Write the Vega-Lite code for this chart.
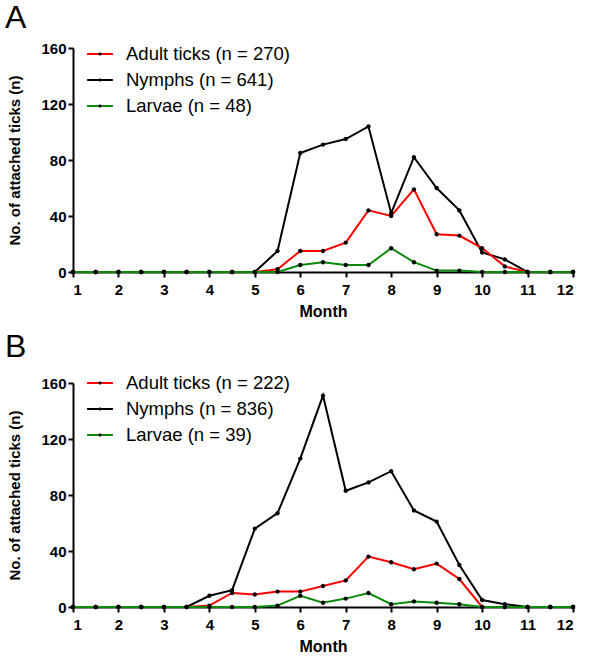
{
  "$schema": "https://vega.github.io/schema/vega-lite/v6.json",
  "padding": {"left": 4, "top": 2, "right": 5, "bottom": 2},
  "spacing": 12,
  "resolve": {"scale": {"color": "independent", "shape": "independent"}, "legend": {"color": "independent", "shape": "independent"}},
  "config": {
    "font": "Liberation Sans",
    "view": {"stroke": null},
    "axis": {"domainColor": "black", "domainWidth": 2, "tickColor": "black", "tickWidth": 2, "tickSize": 5, "labelFont": "Liberation Sans", "labelFontWeight": "bold", "labelFontSize": 15, "labelColor": "black", "titleFont": "Liberation Sans", "titleFontWeight": "bold", "titleFontSize": 15, "titleColor": "black", "grid": false},
    "legend": {"labelLimit": 400},
    "title": {"fontSize": 32, "fontWeight": "normal", "anchor": "start", "frame": "bounds", "color": "black", "font": "Liberation Sans", "offset": 6, "dx": -3}
  },
  "datasets": {
    "A": [
      {"m":1,"s":"Nymphs (n = 641)","n":0},{"m":1.5,"s":"Nymphs (n = 641)","n":0},{"m":2,"s":"Nymphs (n = 641)","n":0},{"m":2.5,"s":"Nymphs (n = 641)","n":0},{"m":3,"s":"Nymphs (n = 641)","n":0},{"m":3.5,"s":"Nymphs (n = 641)","n":0},{"m":4,"s":"Nymphs (n = 641)","n":0},{"m":4.5,"s":"Nymphs (n = 641)","n":0},{"m":5,"s":"Nymphs (n = 641)","n":0},{"m":5.5,"s":"Nymphs (n = 641)","n":15},{"m":6,"s":"Nymphs (n = 641)","n":85},{"m":6.5,"s":"Nymphs (n = 641)","n":91},{"m":7,"s":"Nymphs (n = 641)","n":95},{"m":7.5,"s":"Nymphs (n = 641)","n":104},{"m":8,"s":"Nymphs (n = 641)","n":42},{"m":8.5,"s":"Nymphs (n = 641)","n":82},{"m":9,"s":"Nymphs (n = 641)","n":60},{"m":9.5,"s":"Nymphs (n = 641)","n":44},{"m":10,"s":"Nymphs (n = 641)","n":14},{"m":10.5,"s":"Nymphs (n = 641)","n":9},{"m":11,"s":"Nymphs (n = 641)","n":0},{"m":11.5,"s":"Nymphs (n = 641)","n":0},{"m":12,"s":"Nymphs (n = 641)","n":0},
      {"m":1,"s":"Adult ticks (n = 270)","n":0},{"m":1.5,"s":"Adult ticks (n = 270)","n":0},{"m":2,"s":"Adult ticks (n = 270)","n":0},{"m":2.5,"s":"Adult ticks (n = 270)","n":0},{"m":3,"s":"Adult ticks (n = 270)","n":0},{"m":3.5,"s":"Adult ticks (n = 270)","n":0},{"m":4,"s":"Adult ticks (n = 270)","n":0},{"m":4.5,"s":"Adult ticks (n = 270)","n":0},{"m":5,"s":"Adult ticks (n = 270)","n":0},{"m":5.5,"s":"Adult ticks (n = 270)","n":2},{"m":6,"s":"Adult ticks (n = 270)","n":15},{"m":6.5,"s":"Adult ticks (n = 270)","n":15},{"m":7,"s":"Adult ticks (n = 270)","n":21},{"m":7.5,"s":"Adult ticks (n = 270)","n":44},{"m":8,"s":"Adult ticks (n = 270)","n":40},{"m":8.5,"s":"Adult ticks (n = 270)","n":59},{"m":9,"s":"Adult ticks (n = 270)","n":27},{"m":9.5,"s":"Adult ticks (n = 270)","n":26},{"m":10,"s":"Adult ticks (n = 270)","n":17},{"m":10.5,"s":"Adult ticks (n = 270)","n":4},{"m":11,"s":"Adult ticks (n = 270)","n":0},{"m":11.5,"s":"Adult ticks (n = 270)","n":0},{"m":12,"s":"Adult ticks (n = 270)","n":0},
      {"m":1,"s":"Larvae (n = 48)","n":0},{"m":1.5,"s":"Larvae (n = 48)","n":0},{"m":2,"s":"Larvae (n = 48)","n":0},{"m":2.5,"s":"Larvae (n = 48)","n":0},{"m":3,"s":"Larvae (n = 48)","n":0},{"m":3.5,"s":"Larvae (n = 48)","n":0},{"m":4,"s":"Larvae (n = 48)","n":0},{"m":4.5,"s":"Larvae (n = 48)","n":0},{"m":5,"s":"Larvae (n = 48)","n":0},{"m":5.5,"s":"Larvae (n = 48)","n":0},{"m":6,"s":"Larvae (n = 48)","n":5},{"m":6.5,"s":"Larvae (n = 48)","n":7},{"m":7,"s":"Larvae (n = 48)","n":5},{"m":7.5,"s":"Larvae (n = 48)","n":5},{"m":8,"s":"Larvae (n = 48)","n":17},{"m":8.5,"s":"Larvae (n = 48)","n":7},{"m":9,"s":"Larvae (n = 48)","n":1},{"m":9.5,"s":"Larvae (n = 48)","n":1},{"m":10,"s":"Larvae (n = 48)","n":0},{"m":10.5,"s":"Larvae (n = 48)","n":0},{"m":11,"s":"Larvae (n = 48)","n":0},{"m":11.5,"s":"Larvae (n = 48)","n":0},{"m":12,"s":"Larvae (n = 48)","n":0}
    ],
    "B": [
      {"m":1,"s":"Nymphs (n = 836)","n":0},{"m":1.5,"s":"Nymphs (n = 836)","n":0},{"m":2,"s":"Nymphs (n = 836)","n":0},{"m":2.5,"s":"Nymphs (n = 836)","n":0},{"m":3,"s":"Nymphs (n = 836)","n":0},{"m":3.5,"s":"Nymphs (n = 836)","n":0},{"m":4,"s":"Nymphs (n = 836)","n":8},{"m":4.5,"s":"Nymphs (n = 836)","n":12},{"m":5,"s":"Nymphs (n = 836)","n":56},{"m":5.5,"s":"Nymphs (n = 836)","n":67},{"m":6,"s":"Nymphs (n = 836)","n":106},{"m":6.5,"s":"Nymphs (n = 836)","n":151},{"m":7,"s":"Nymphs (n = 836)","n":83},{"m":7.5,"s":"Nymphs (n = 836)","n":89},{"m":8,"s":"Nymphs (n = 836)","n":97},{"m":8.5,"s":"Nymphs (n = 836)","n":69},{"m":9,"s":"Nymphs (n = 836)","n":61},{"m":9.5,"s":"Nymphs (n = 836)","n":30},{"m":10,"s":"Nymphs (n = 836)","n":5},{"m":10.5,"s":"Nymphs (n = 836)","n":2},{"m":11,"s":"Nymphs (n = 836)","n":0},{"m":11.5,"s":"Nymphs (n = 836)","n":0},{"m":12,"s":"Nymphs (n = 836)","n":0},
      {"m":1,"s":"Adult ticks (n = 222)","n":0},{"m":1.5,"s":"Adult ticks (n = 222)","n":0},{"m":2,"s":"Adult ticks (n = 222)","n":0},{"m":2.5,"s":"Adult ticks (n = 222)","n":0},{"m":3,"s":"Adult ticks (n = 222)","n":0},{"m":3.5,"s":"Adult ticks (n = 222)","n":0},{"m":4,"s":"Adult ticks (n = 222)","n":1},{"m":4.5,"s":"Adult ticks (n = 222)","n":10},{"m":5,"s":"Adult ticks (n = 222)","n":9},{"m":5.5,"s":"Adult ticks (n = 222)","n":11},{"m":6,"s":"Adult ticks (n = 222)","n":11},{"m":6.5,"s":"Adult ticks (n = 222)","n":15},{"m":7,"s":"Adult ticks (n = 222)","n":19},{"m":7.5,"s":"Adult ticks (n = 222)","n":36},{"m":8,"s":"Adult ticks (n = 222)","n":32},{"m":8.5,"s":"Adult ticks (n = 222)","n":27},{"m":9,"s":"Adult ticks (n = 222)","n":31},{"m":9.5,"s":"Adult ticks (n = 222)","n":20},{"m":10,"s":"Adult ticks (n = 222)","n":0},{"m":10.5,"s":"Adult ticks (n = 222)","n":0},{"m":11,"s":"Adult ticks (n = 222)","n":0},{"m":11.5,"s":"Adult ticks (n = 222)","n":0},{"m":12,"s":"Adult ticks (n = 222)","n":0},
      {"m":1,"s":"Larvae (n = 39)","n":0},{"m":1.5,"s":"Larvae (n = 39)","n":0},{"m":2,"s":"Larvae (n = 39)","n":0},{"m":2.5,"s":"Larvae (n = 39)","n":0},{"m":3,"s":"Larvae (n = 39)","n":0},{"m":3.5,"s":"Larvae (n = 39)","n":0},{"m":4,"s":"Larvae (n = 39)","n":0},{"m":4.5,"s":"Larvae (n = 39)","n":0},{"m":5,"s":"Larvae (n = 39)","n":0},{"m":5.5,"s":"Larvae (n = 39)","n":1},{"m":6,"s":"Larvae (n = 39)","n":8},{"m":6.5,"s":"Larvae (n = 39)","n":3},{"m":7,"s":"Larvae (n = 39)","n":6},{"m":7.5,"s":"Larvae (n = 39)","n":10},{"m":8,"s":"Larvae (n = 39)","n":2},{"m":8.5,"s":"Larvae (n = 39)","n":4},{"m":9,"s":"Larvae (n = 39)","n":3},{"m":9.5,"s":"Larvae (n = 39)","n":2},{"m":10,"s":"Larvae (n = 39)","n":0},{"m":10.5,"s":"Larvae (n = 39)","n":0},{"m":11,"s":"Larvae (n = 39)","n":0},{"m":11.5,"s":"Larvae (n = 39)","n":0},{"m":12,"s":"Larvae (n = 39)","n":0}
    ]
  },
  "vconcat": [
    {
      "title": "A",
      "width": 500, "height": 224,
      "data": {"name": "A"},
      "resolve": {"legend": {"color": "independent", "shape": "independent"}},
      "encoding": {
        "x": {"field": "m", "type": "quantitative", "title": "Month", "scale": {"domain": [1, 12], "nice": false, "zero": false}, "axis": {"values": [1,2,3,4,5,6,7,8,9,10,11,12], "format": "d", "labelPadding": 5, "titlePadding": 6, "titleFontSize": 16}},
        "y": {"field": "n", "type": "quantitative", "title": "No. of attached ticks (n)", "scale": {"domain": [0, 160], "nice": false}, "axis": {"values": [0, 40, 80, 120, 160], "labelPadding": 2, "titlePadding": 18}}
      },
      "layer": [
        {
          "mark": {"type": "line", "strokeWidth": 2},
          "encoding": {
            "color": {"field": "s", "type": "nominal", "scale": {"domain": ["Adult ticks (n = 270)", "Nymphs (n = 641)", "Larvae (n = 48)"], "range": ["#ff0000", "#000000", "#0a8a0a"]},
              "legend": {"title": null, "orient": "none", "legendX": 14, "legendY": -7, "padding": 0, "symbolType": "M-1.1,0H1.1", "symbolSize": 552, "symbolStrokeWidth": 2, "labelFontSize": 18.5, "labelFont": "Liberation Sans", "labelColor": "black", "labelOffset": 13, "labelLimit": 400, "rowPadding": 3}}
          }
        },
        {
          "mark": {"type": "point", "filled": true, "size": 1150, "color": "black", "opacity": 1},
          "encoding": {
            "shape": {"field": "s", "type": "nominal", "sort": ["Adult ticks (n = 270)", "Nymphs (n = 641)", "Larvae (n = 48)"], "scale": {"range": ["M-0.13,0A0.13,0.13,0,1,1,0.13,0A0.13,0.13,0,1,1,-0.13,0Z"]},
              "legend": {"title": null, "orient": "none", "legendX": 14, "legendY": -7, "padding": 0, "symbolSize": 552, "symbolStrokeWidth": 2, "symbolFillColor": "black", "symbolStrokeColor": "black", "labelFontSize": 18.5, "labelFont": "Liberation Sans", "labelOpacity": 0, "labelOffset": 13, "labelLimit": 400, "rowPadding": 3}}
          }
        }
      ]
    },
    {
      "title": "B",
      "width": 500, "height": 224,
      "data": {"name": "B"},
      "resolve": {"legend": {"color": "independent", "shape": "independent"}},
      "encoding": {
        "x": {"field": "m", "type": "quantitative", "title": "Month", "scale": {"domain": [1, 12], "nice": false, "zero": false}, "axis": {"values": [1,2,3,4,5,6,7,8,9,10,11,12], "format": "d", "labelPadding": 5, "titlePadding": 6, "titleFontSize": 16}},
        "y": {"field": "n", "type": "quantitative", "title": "No. of attached ticks (n)", "scale": {"domain": [0, 160], "nice": false}, "axis": {"values": [0, 40, 80, 120, 160], "labelPadding": 2, "titlePadding": 18}}
      },
      "layer": [
        {
          "mark": {"type": "line", "strokeWidth": 2},
          "encoding": {
            "color": {"field": "s", "type": "nominal", "scale": {"domain": ["Adult ticks (n = 222)", "Nymphs (n = 836)", "Larvae (n = 39)"], "range": ["#ff0000", "#000000", "#0a8a0a"]},
              "legend": {"title": null, "orient": "none", "legendX": 14, "legendY": -13, "padding": 0, "symbolType": "M-1.1,0H1.1", "symbolSize": 552, "symbolStrokeWidth": 2, "labelFontSize": 18.5, "labelFont": "Liberation Sans", "labelColor": "black", "labelOffset": 13, "labelLimit": 400, "rowPadding": 3}}
          }
        },
        {
          "mark": {"type": "point", "filled": true, "size": 1150, "color": "black", "opacity": 1},
          "encoding": {
            "shape": {"field": "s", "type": "nominal", "sort": ["Adult ticks (n = 222)", "Nymphs (n = 836)", "Larvae (n = 39)"], "scale": {"range": ["M-0.13,0A0.13,0.13,0,1,1,0.13,0A0.13,0.13,0,1,1,-0.13,0Z"]},
              "legend": {"title": null, "orient": "none", "legendX": 14, "legendY": -13, "padding": 0, "symbolSize": 552, "symbolStrokeWidth": 2, "symbolFillColor": "black", "symbolStrokeColor": "black", "labelFontSize": 18.5, "labelFont": "Liberation Sans", "labelOpacity": 0, "labelOffset": 13, "labelLimit": 400, "rowPadding": 3}}
          }
        }
      ]
    }
  ]
}
